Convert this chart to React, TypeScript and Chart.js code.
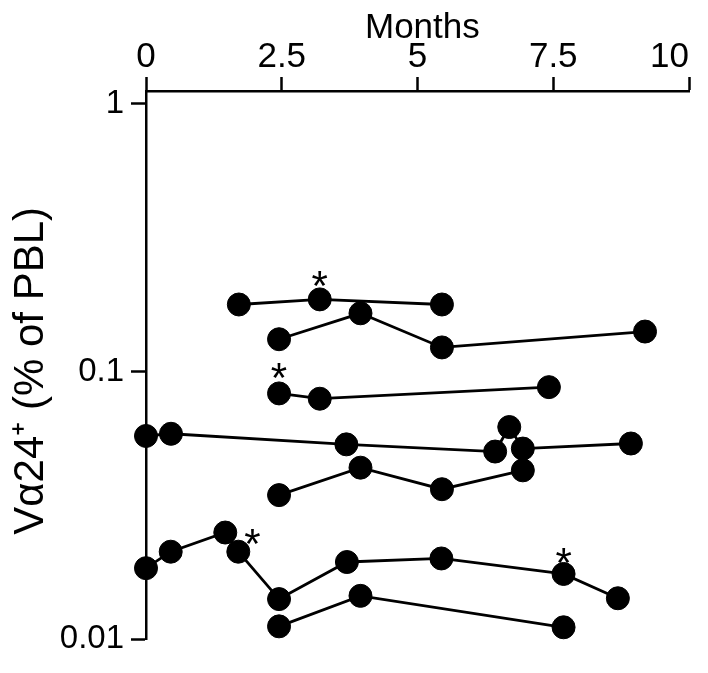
import React, { useEffect, useRef } from 'react';
import { Chart, registerables } from 'chart.js';

Chart.register(...registerables);

// Axis ticks
const xTickValues = [0, 2.5, 5, 7.5, 10];
const yTickValues = [0.01, 0.1, 1];

// Series (months, Vα24+ % of PBL)
const s1Months = [1.71, 3.2, 5.45];
const s1Values = [0.178, 0.186, 0.178];

const s2Months = [2.45, 3.95, 5.45, 9.19];
const s2Values = [0.132, 0.165, 0.123, 0.141];

const s3Months = [2.45, 3.2, 7.42];
const s3Values = [0.0828, 0.0791, 0.0874];

const s4Months = [0, 0.46, 3.69, 6.43, 6.69, 6.94, 8.93];
const s4Values = [0.0574, 0.0585, 0.0534, 0.0502, 0.062, 0.0515, 0.0538];

const s5Months = [2.45, 3.95, 5.45, 6.94];
const s5Values = [0.0345, 0.0437, 0.0363, 0.0427];

const s6Months = [0, 0.455, 1.46, 1.7, 2.45, 3.7, 5.44, 7.69, 8.69];
const s6Values = [0.0184, 0.0212, 0.025, 0.0212, 0.0141, 0.0194, 0.02, 0.0175, 0.0142];

const s7Months = [2.45, 3.95, 7.69];
const s7Values = [0.01115, 0.0145, 0.01106];

// Asterisk annotations
const starMonths = [3.2, 2.45, 1.96, 7.69];
const starValues = [0.226, 0.1026, 0.0246, 0.0208];

const FONT = '"Liberation Sans", Arial, Helvetica, sans-serif';
const STAR_SIZE = 42;

const seriesList = [
  [s1Months, s1Values],
  [s2Months, s2Values],
  [s3Months, s3Values],
  [s4Months, s4Values],
  [s5Months, s5Values],
  [s6Months, s6Values],
  [s7Months, s7Values],
];

const starPlugin = {
  id: 'stars',
  afterDatasetsDraw(chart: any) {
    const { ctx, scales } = chart;
    ctx.save();
    ctx.fillStyle = '#000';
    ctx.font = `${STAR_SIZE}px ${FONT}`;
    ctx.textAlign = 'center';
    ctx.textBaseline = 'alphabetic';
    starMonths.forEach((m, i) => {
      const px = scales.x.getPixelForValue(m);
      const py = scales.y.getPixelForValue(starValues[i]);
      ctx.fillText('*', px, py + 0.56 * STAR_SIZE);
    });
    ctx.restore();
  },
};

export default function App() {
  const ref = useRef<HTMLCanvasElement | null>(null);

  useEffect(() => {
    if (!ref.current) return;
    Chart.defaults.color = '#000';
    const datasets = seriesList.map(([months, values]) => ({
      data: months.map((m, i) => ({ x: m, y: values[i] })),
      borderColor: '#000',
      backgroundColor: '#000',
      borderWidth: 2.8,
      pointRadius: 11.5,
      pointBorderWidth: 1,
      pointBackgroundColor: '#000',
      pointBorderColor: '#000',
      tension: 0,
      clip: false as any,
    }));

    const chart = new Chart(ref.current, {
      type: 'line',
      data: { datasets },
      plugins: [starPlugin],
      options: {
        animation: false,
        responsive: false,
        events: [],
        layout: { padding: { left: 0, top: 0, right: 19, bottom: 34 } },
        plugins: { legend: { display: false }, tooltip: { enabled: false } },
        scales: {
          x: {
            type: 'linear',
            position: 'top',
            min: 0,
            max: 10,
            afterBuildTicks: (scale: any) => {
              scale.ticks = xTickValues.map((v) => ({ value: v }));
            },
            afterFit: (scale: any) => {
              scale.height = 91;
              scale.paddingLeft = 0;
              scale.paddingRight = 0;
            },
            ticks: {
              font: { family: FONT, size: 35, lineHeight: 1 },
              color: '#000',
              padding: 2,
              maxRotation: 0,
              autoSkip: false,
              callback: (v: any) => (v === 10 ? '10    ' : String(v)),
            },
            grid: {
              drawOnChartArea: false,
              drawTicks: true,
              tickLength: 14,
              tickWidth: 2.5,
              tickColor: '#000',
            },
            border: { display: true, color: '#000', width: 2.5 },
            title: {
              display: true,
              text: ' Months',
              font: { family: FONT, size: 35 },
              color: '#000',
              padding: { top: 7, bottom: 0 },
            },
          },
          y: {
            type: 'logarithmic',
            position: 'left',
            min: 0.01,
            max: 1.118,
            bounds: 'data',
            afterBuildTicks: (scale: any) => {
              scale.ticks = yTickValues.map((v) => ({ value: v }));
            },
            afterFit: (scale: any) => {
              scale.width = 146;
              scale.paddingTop = 0;
              scale.paddingBottom = 0;
            },
            ticks: {
              font: { family: FONT, size: 33 },
              color: '#000',
              padding: 7,
              autoSkip: false,
              callback: (v: any) => String(v),
            },
            grid: {
              drawOnChartArea: false,
              drawTicks: true,
              tickLength: 15,
              tickWidth: 2.5,
              tickColor: '#000',
            },
            border: { display: true, color: '#000', width: 2.5 },
            title: {
              display: true,
              text: 'V\u03b124\u207a (% of PBL) ',
              font: { family: FONT, size: 42 },
              color: '#000',
              padding: { top: 6, bottom: 0 },
            },
          },
        },
      },
    });
    return () => chart.destroy();
  }, []);

  return (
    <div style={{ position: 'absolute', left: 0, top: 0, width: 708, height: 673, background: '#fff' }}>
      <canvas ref={ref} width={708} height={673} style={{ display: 'block', width: 708, height: 673 }} />
    </div>
  );
}
